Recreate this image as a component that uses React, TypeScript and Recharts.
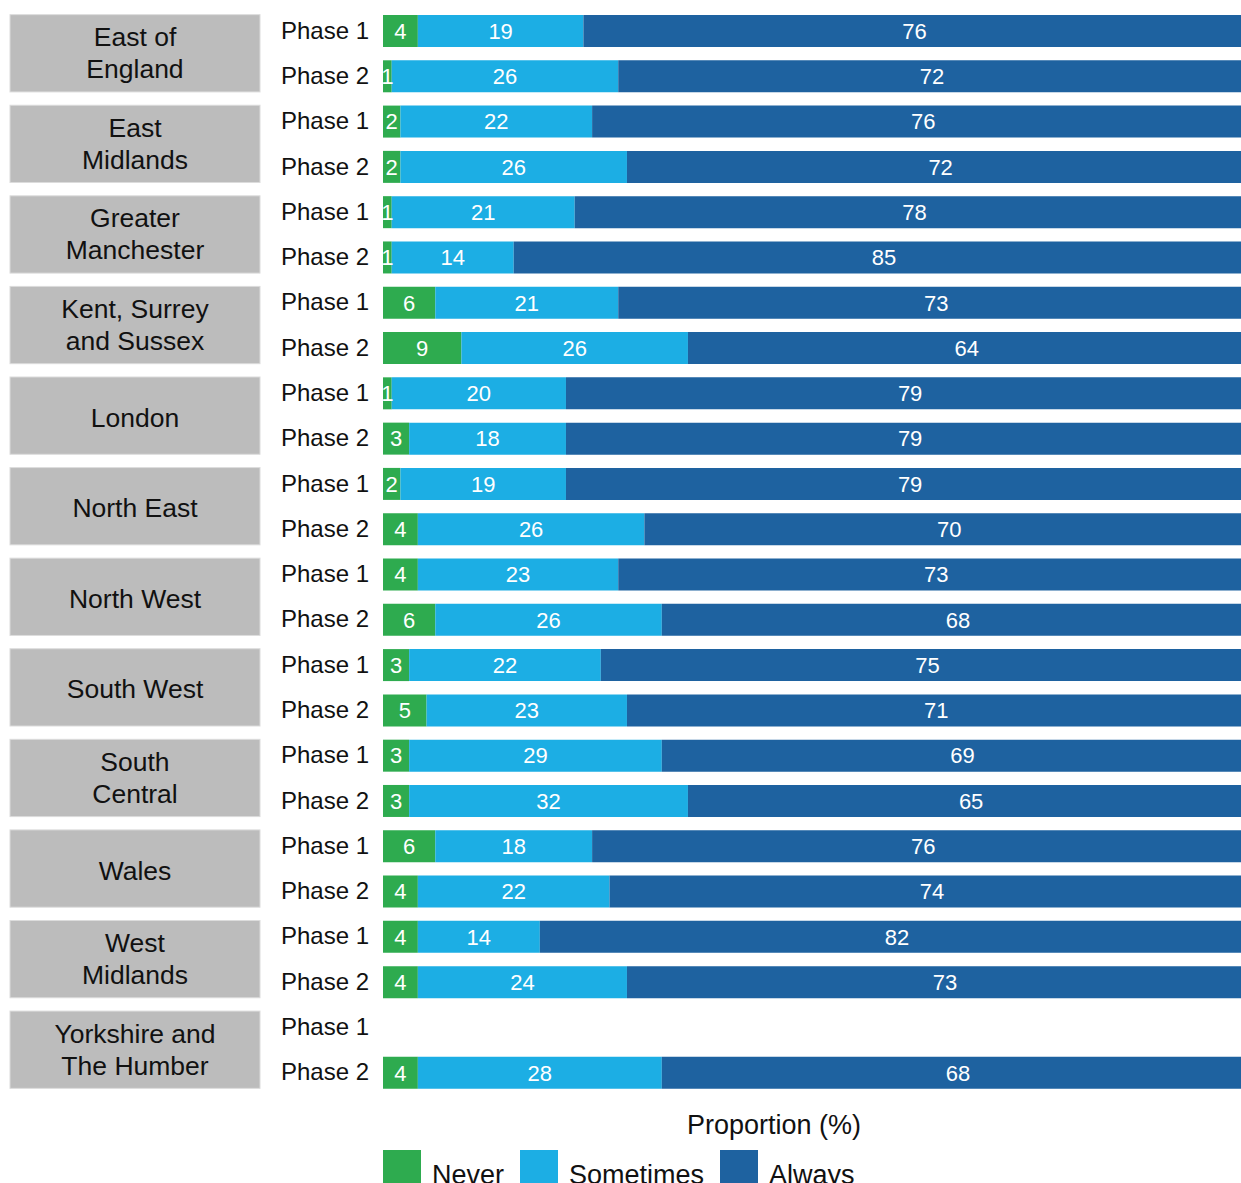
import React from "react";
import { BarChart, Bar, XAxis, YAxis, LabelList, Legend } from "recharts";

const regions = [
  ["East of", "England"],
  ["East", "Midlands"],
  ["Greater", "Manchester"],
  ["Kent, Surrey", "and Sussex"],
  ["London"],
  ["North East"],
  ["North West"],
  ["South West"],
  ["South", "Central"],
  ["Wales"],
  ["West", "Midlands"],
  ["Yorkshire and", "The Humber"],
];

const phases = ["Phase 1", "Phase 2"];

// [phase1, phase2] per region
const never: (number | null)[][] = [
  [4, 1], [2, 2], [1, 1], [6, 9], [1, 3], [2, 4],
  [4, 6], [3, 5], [3, 3], [6, 4], [4, 4], [null, 4],
];
const sometimes: (number | null)[][] = [
  [19, 26], [22, 26], [21, 14], [21, 26], [20, 18], [19, 26],
  [23, 26], [22, 23], [29, 32], [18, 22], [14, 24], [null, 28],
];
const always: (number | null)[][] = [
  [76, 72], [76, 72], [78, 85], [73, 64], [79, 79], [79, 70],
  [73, 68], [75, 71], [69, 65], [76, 74], [82, 73], [null, 68],
];

const COLORS = { never: "#2eab4f", sometimes: "#1caee4", always: "#1e62a0" };

const rows = regions.flatMap((r, ri) =>
  phases.map((p, pi) => ({
    key: `r${ri}-p${pi}`,
    region: ri,
    phase: p,
    first: pi === 0,
    never: never[ri][pi],
    sometimes: sometimes[ri][pi],
    always: always[ri][pi],
  }))
);

// chart is a bit wider than the page, bars run off the right edge like the original
const W = 1263;
const H = 1183;
const MARGIN = { top: 8, right: 0, left: 8, bottom: 48 };
const XAXIS_H = 40;
const PLOT_H = H - MARGIN.top - MARGIN.bottom - XAXIS_H;
const ROW = PLOT_H / rows.length;
const BAR = 32;
const FONT = "'Liberation Sans', Arial, sans-serif";

function RowTick(props: any) {
  const { x, y, payload } = props;
  const row = rows.find((r) => r.key === payload.value);
  if (!row) return null;
  const lines = regions[row.region];
  return (
    <g>
      {row.first && (
        <g>
          <rect
            x={10}
            y={y - BAR / 2}
            width={250}
            height={ROW + BAR}
            fill="#bcbcbc"
            stroke="#dcdcdc"
            strokeWidth={1}
          />
          <text
            x={135}
            y={y + ROW / 2}
            textAnchor="middle"
            fontFamily={FONT}
            fontSize={26.5}
            fill="#111"
          >
            {lines.map((l, i) => (
              <tspan
                key={i}
                x={135}
                dy={i === 0 ? (lines.length === 1 ? 11 : -7) : 32}
              >
                {l}
              </tspan>
            ))}
          </text>
        </g>
      )}
      <text
        x={x - 14}
        y={y + 8}
        textAnchor="end"
        fontFamily={FONT}
        fontSize={24}
        fill="#111"
      >
        {row.phase}
      </text>
    </g>
  );
}

const legendItems = [
  { name: "Never", color: COLORS.never },
  { name: "Sometimes", color: COLORS.sometimes },
  { name: "Always", color: COLORS.always },
];

function LegendContent() {
  return (
    <div style={{ display: "flex", alignItems: "center", fontFamily: FONT, fontSize: 27, color: "#111" }}>
      {legendItems.map((it) => (
        <div key={it.name} style={{ display: "flex", alignItems: "center", marginRight: 16 }}>
          <div style={{ width: 38, height: 38, background: it.color }} />
          <span style={{ marginLeft: 11, lineHeight: "38px", position: "relative", top: 6 }}>{it.name}</span>
        </div>
      ))}
    </div>
  );
}

const valueLabel = { fill: "#ffffff", fontSize: 22, fontFamily: FONT };

export default function App() {
  return (
    <div style={{ position: "fixed", left: 0, top: 0, width: 1241, height: H, overflow: "hidden", background: "#fff" }}>
      <div style={{ width: W, height: H }}>
        <BarChart
          width={W}
          height={H}
          data={rows}
          layout="vertical"
          margin={MARGIN}
          barSize={BAR}
        >
          <XAxis
            type="number"
            domain={[0, 100]}
            height={XAXIS_H}
            tick={false}
            axisLine={false}
            tickLine={false}
            label={{
              value: "Proportion (%)",
              position: "center",
              dx: -49,
              dy: 9,
              fontSize: 27,
              fontFamily: FONT,
              fill: "#111",
            }}
          />
          <YAxis
            type="category"
            dataKey="key"
            width={375}
            axisLine={false}
            tickLine={false}
            tickSize={0}
            tickMargin={0}
            interval={0}
            tick={<RowTick />}
          />
          <Legend
            verticalAlign="middle"
            layout="horizontal"
            content={<LegendContent />}
            wrapperStyle={{ top: 1150, left: 383, width: 700 }}
          />
          <Bar dataKey="never" stackId="a" fill={COLORS.never} isAnimationActive={false}>
            <LabelList dataKey="never" position="center" style={valueLabel} />
          </Bar>
          <Bar dataKey="sometimes" stackId="a" fill={COLORS.sometimes} isAnimationActive={false}>
            <LabelList dataKey="sometimes" position="center" style={valueLabel} />
          </Bar>
          <Bar dataKey="always" stackId="a" fill={COLORS.always} isAnimationActive={false}>
            <LabelList dataKey="always" position="center" style={valueLabel} />
          </Bar>
        </BarChart>
      </div>
    </div>
  );
}
